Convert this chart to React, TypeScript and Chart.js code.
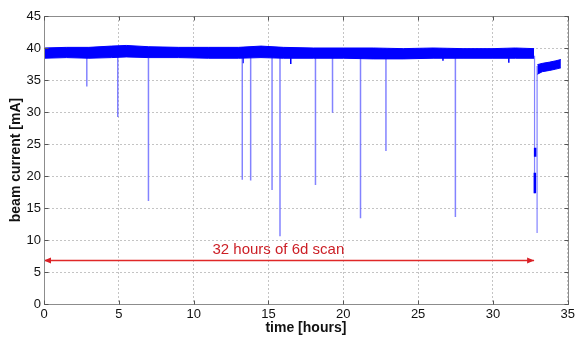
import React, { useEffect, useRef } from "react";
import { Chart, registerables } from "chart.js";

Chart.register(...registerables);

// ---- axes ----
const xMin = 0;
const xMax = 35;
const xStep = 5;
const yMin = 0;
const yMax = 45;
const yStep = 5;
const xTitle = "time [hours]";
const yTitle = "beam current [mA]";

// ---- main beam-current band (envelope of the noisy trace) ----
const bandTimes = [0, 1.5, 3, 4.5, 5.5, 7, 9, 11, 13, 14.5, 16, 18, 20, 22, 24, 26, 28, 30, 31.5, 32.75];
const bandUpper = [40.0, 40.1, 40.1, 40.3, 40.4, 40.2, 40.1, 40.1, 40.1, 40.3, 40.1, 40.0, 40.0, 40.0, 39.9, 40.0, 39.9, 39.9, 40.0, 39.9];
const bandLower = [38.4, 38.5, 38.4, 38.5, 38.6, 38.5, 38.5, 38.4, 38.4, 38.5, 38.4, 38.4, 38.4, 38.3, 38.3, 38.4, 38.4, 38.4, 38.4, 38.4];

// ---- beam trips (dips) ----
const dipTimes = [2.86, 4.93, 6.98, 13.25, 13.81, 15.24, 15.77, 18.14, 19.28, 21.15, 22.85, 27.49];
const dipBottoms = [34.0, 29.2, 16.1, 19.4, 19.3, 17.8, 10.6, 18.6, 29.9, 13.4, 23.9, 13.6];
const dipTop = 38.8;

// ---- small noise spikes below the band ----
const spikeTimes = [13.3, 16.49, 26.66, 31.06];
const spikeBottoms = [37.6, 37.5, 38.0, 37.7];

// ---- final drop at end of scan ----
const dropTimes = [32.78, 32.95];
const dropTops = [38.8, 37.2];
const dropBottoms = [17.3, 11.1];
const dropThickTimes = [32.82, 32.8];
const dropThickTops = [24.4, 20.5];
const dropThickBottoms = [23.0, 17.3];

// ---- recovered beam after the scan ----
const recTimes = [32.97, 33.3, 33.8, 34.2, 34.54];
const recUpper = [37.4, 37.6, 37.8, 38.0, 38.2];
const recLower = [35.9, 36.3, 36.5, 36.7, 36.9];

// ---- annotation ----
const arrowFrom = 0;
const arrowTo = 32.75;
const arrowY = 6.8;
const noteText = "32 hours of 6d scan";
const noteX = 15.66;
const noteY = 8.5;

const BLUE = "#0000ff";
const DIP = "rgba(100,100,255,0.8)";
const RED = "#d91f26";
const FONT = '"Liberation Sans", Arial, Helvetica, sans-serif';

function segments(ts: number[], tops: number[], bottoms: number[]) {
  const pts: { x: number; y: number | null }[] = [];
  ts.forEach((t, i) => {
    pts.push({ x: t, y: tops[i] }, { x: t, y: bottoms[i] }, { x: t, y: null });
  });
  return pts;
}

function zip(ts: number[], vs: number[]) {
  return ts.map((t, i) => ({ x: t, y: vs[i] }));
}

const overlayPlugin = {
  id: "overlay",
  afterDatasetsDraw(chart: any) {
    const { ctx, chartArea: a, scales } = chart;
    const xs = scales.x;
    const ys = scales.y;
    ctx.save();
    // arrow heads
    const ay = ys.getPixelForValue(arrowY);
    const x0 = xs.getPixelForValue(arrowFrom);
    const x1 = xs.getPixelForValue(arrowTo);
    ctx.fillStyle = RED;
    ctx.beginPath();
    ctx.moveTo(x0, ay);
    ctx.lineTo(x0 + 7, ay - 3);
    ctx.lineTo(x0 + 7, ay + 3);
    ctx.closePath();
    ctx.fill();
    ctx.beginPath();
    ctx.moveTo(x1, ay);
    ctx.lineTo(x1 - 7, ay - 3);
    ctx.lineTo(x1 - 7, ay + 3);
    ctx.closePath();
    ctx.fill();
    // note text
    ctx.font = `15px ${FONT}`;
    ctx.textAlign = "center";
    ctx.textBaseline = "middle";
    ctx.fillStyle = "#cc1f26";
    ctx.fillText(noteText, xs.getPixelForValue(noteX), ys.getPixelForValue(noteY));
    // box
    const L = Math.round(a.left) + 0.5;
    const R = Math.round(a.right) + 0.5;
    const T = Math.round(a.top) + 0.5;
    const B = Math.round(a.bottom) + 0.5;
    ctx.strokeStyle = "#8c8c8c";
    ctx.lineWidth = 1;
    ctx.strokeRect(L, T, R - L, B - T);
    // inward tick marks
    ctx.strokeStyle = "#555";
    ctx.beginPath();
    for (let v = xMin; v <= xMax; v += xStep) {
      const px = Math.round(xs.getPixelForValue(v)) + 0.5;
      ctx.moveTo(px, B);
      ctx.lineTo(px, B - 4);
      ctx.moveTo(px, T);
      ctx.lineTo(px, T + 4);
    }
    for (let v = yMin; v <= yMax; v += yStep) {
      const py = Math.round(ys.getPixelForValue(v)) + 0.5;
      ctx.moveTo(L, py);
      ctx.lineTo(L + 4, py);
      ctx.moveTo(R, py);
      ctx.lineTo(R - 4, py);
    }
    ctx.stroke();
    ctx.restore();
  },
};

export default function App() {
  const ref = useRef<HTMLCanvasElement | null>(null);
  useEffect(() => {
    if (!ref.current) return;
    const chart = new Chart(ref.current, {
      type: "line",
      data: {
        datasets: [
          {
            data: zip(bandTimes, bandUpper),
            borderColor: BLUE,
            borderWidth: 1,
            pointRadius: 0,
            fill: false,
          },
          {
            data: zip(bandTimes, bandLower),
            borderColor: BLUE,
            borderWidth: 1,
            pointRadius: 0,
            backgroundColor: BLUE,
            fill: "-1",
          },
          {
            data: zip(recTimes, recUpper),
            borderColor: BLUE,
            borderWidth: 1,
            pointRadius: 0,
            fill: false,
          },
          {
            data: zip(recTimes, recLower),
            borderColor: BLUE,
            borderWidth: 1,
            pointRadius: 0,
            backgroundColor: BLUE,
            fill: "-1",
          },
          {
            data: segments(dropThickTimes, dropThickTops, dropThickBottoms),
            borderColor: BLUE,
            borderWidth: 2.5,
            pointRadius: 0,
            spanGaps: false,
            fill: false,
          },
          {
            data: segments(dipTimes, dipTimes.map(() => dipTop), dipBottoms),
            borderColor: DIP,
            borderWidth: 1.5,
            pointRadius: 0,
            spanGaps: false,
            fill: false,
          },
          {
            data: segments(spikeTimes, spikeTimes.map(() => dipTop), spikeBottoms),
            borderColor: BLUE,
            borderWidth: 1.5,
            pointRadius: 0,
            spanGaps: false,
            fill: false,
          },
          {
            data: segments(dropTimes, dropTops, dropBottoms),
            borderColor: DIP,
            borderWidth: 1.2,
            pointRadius: 0,
            spanGaps: false,
            fill: false,
          },
          {
            data: [
              { x: arrowFrom, y: arrowY },
              { x: arrowTo, y: arrowY },
            ],
            borderColor: "#e02828",
            borderWidth: 1.6,
            pointRadius: 0,
            fill: false,
          },
        ],
      },
      options: {
        animation: false,
        responsive: false,
        maintainAspectRatio: false,
        layout: { padding: { top: 16, right: 10, left: 0, bottom: 0 } },
        plugins: { legend: { display: false }, tooltip: { enabled: false } },
        elements: { line: { tension: 0 } },
        scales: {
          x: {
            type: "linear",
            min: xMin,
            max: xMax,
            ticks: {
              stepSize: xStep,
              color: "#111",
              font: { family: FONT, size: 13 },
              padding: 3,
              maxRotation: 0,
            },
            grid: { color: "#c4c4c4", drawTicks: false, lineWidth: 1 },
            border: { display: false, dash: [2, 2] },
            title: {
              display: true,
              text: xTitle,
              color: "#111",
              font: { family: FONT, size: 14, weight: "bold" },
              padding: { top: 0, bottom: 4 },
            },
            afterFit: (s: any) => {
              s.height = 37;
            },
          },
          y: {
            type: "linear",
            min: yMin,
            max: yMax,
            ticks: {
              stepSize: yStep,
              color: "#111",
              font: { family: FONT, size: 13 },
              padding: 3,
            },
            grid: { color: "#c4c4c4", drawTicks: false, lineWidth: 1 },
            border: { display: false, dash: [2, 2] },
            title: {
              display: true,
              text: yTitle,
              color: "#111",
              font: { family: FONT, size: 14, weight: "bold" },
              padding: { top: 8, bottom: 0 },
            },
            afterFit: (s: any) => {
              s.width = 44;
            },
          },
        },
      },
      plugins: [overlayPlugin],
    } as any);
    return () => chart.destroy();
  }, []);
  return (
    <div style={{ position: "absolute", left: 0, top: 0, width: 578, height: 341, background: "#fff" }}>
      <canvas ref={ref} width={578} height={341} style={{ width: 578, height: 341, display: "block" }} />
    </div>
  );
}
